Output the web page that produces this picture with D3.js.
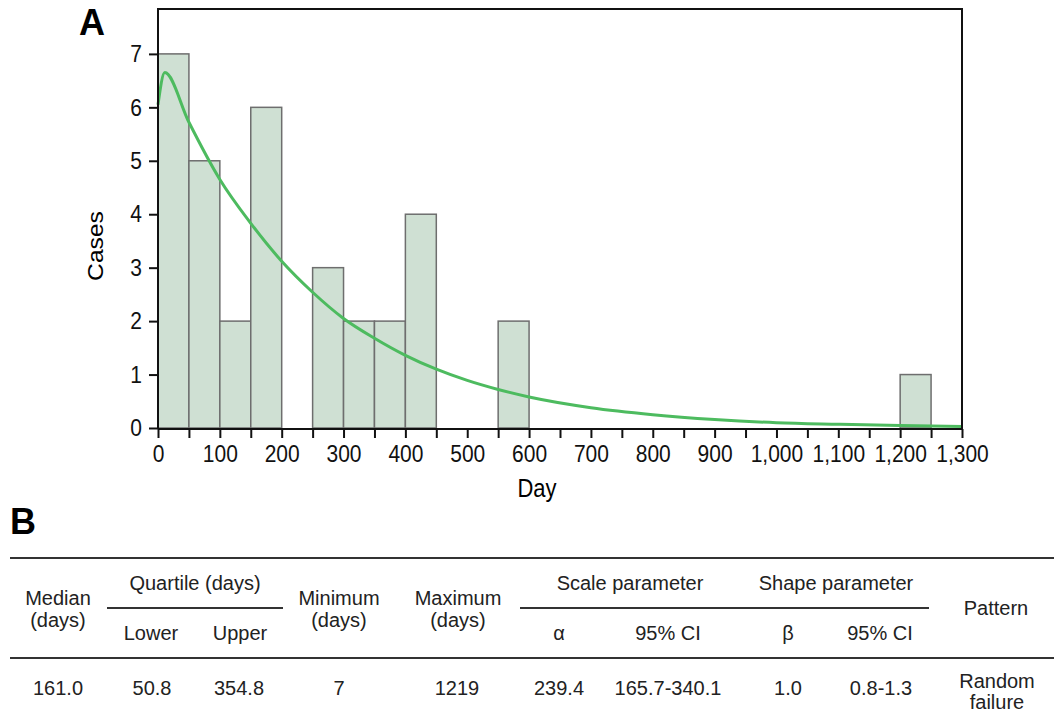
<!DOCTYPE html>
<html>
<head>
<meta charset="utf-8">
<script src="https://cdn.jsdelivr.net/npm/d3@7"></script>
<style>
  body { margin: 0; background: #fff; }
  svg { display: block; font-family: "Liberation Sans", Arial, sans-serif; }
  .axis text { font-size: 21px; fill: #111; }
  .axis path, .axis line { stroke: #111; stroke-width: 2px; }
  .tall { transform-box: fill-box; transform-origin: center; transform: scaleY(1.15); }
  .tbl text { font-size: 20px; fill: #222; text-anchor: middle; }
</style>
</head>
<body>
<svg id="chart" width="1054" height="717"></svg>
<script>
// histogram bins (start day of each 50-day bin) and counts
var binStart = [0, 50, 100, 150, 250, 300, 350, 400, 550, 1200];
var binCount = [7, 5, 2, 6, 3, 2, 2, 4, 2, 1];
var binWidth = 50;

// fitted curve
var curveDay = [0, 11, 50, 100, 150, 200, 250, 300, 350, 400, 450, 500, 550, 600, 700, 800, 900, 1000, 1100, 1200, 1300];
var curveVal = [6.05, 6.65, 5.72, 4.65, 3.83, 3.12, 2.54, 2.05, 1.68, 1.36, 1.10, 0.89, 0.72, 0.58, 0.38, 0.25, 0.16, 0.10, 0.07, 0.045, 0.03];

var xTicks = d3.range(0, 1301, 50);
var yTicks = [0, 1, 2, 3, 4, 5, 6, 7];

// table B
var tblValues = ["161.0", "50.8", "354.8", "7", "1219", "239.4", "165.7-340.1", "1.0", "0.8-1.3"];
var tblSub = ["Lower", "Upper", "α", "95% CI", "β", "95% CI"];

var svg = d3.select("#chart");

var x = d3.scaleLinear().domain([0, 1300]).range([158, 962]);
var y = d3.scaleLinear().domain([0, 7.84]).range([428, 9]);

// bars
svg.append("g").selectAll("rect")
    .data(binStart)
    .enter().append("rect")
    .attr("x", function(d) { return x(d); })
    .attr("y", function(d, i) { return y(binCount[i]); })
    .attr("width", function(d) { return x(d + binWidth) - x(d); })
    .attr("height", function(d, i) { return y(0) - y(binCount[i]); })
    .attr("fill", "#cfe0d3")
    .attr("stroke", "#6e6e6e")
    .attr("stroke-width", 1.5);

// fitted line
var line = d3.line()
    .x(function(d, i) { return x(d); })
    .y(function(d, i) { return y(curveVal[i]); })
    .curve(d3.curveMonotoneX);

svg.append("path")
    .datum(curveDay)
    .attr("d", line)
    .attr("fill", "none")
    .attr("stroke", "#4dbb5f")
    .attr("stroke-width", 3);

// frame (top, left, right)
svg.append("path")
    .attr("d", "M" + x(0) + "," + y(0) + "V" + y.range()[1] + "H" + x(1300) + "V" + (y(0) + 1))
    .attr("fill", "none")
    .attr("stroke", "#111")
    .attr("stroke-width", 2);

// x axis
var fmt = d3.format(",");
svg.append("g")
    .attr("class", "axis x")
    .attr("transform", "translate(0," + (y(0) + 1) + ")")
    .call(d3.axisBottom(x)
        .tickValues(xTicks)
        .tickSize(9)
        .tickPadding(8)
        .tickFormat(function(d) { return d % 100 === 0 ? fmt(d) : ""; }))
    .call(function(g) { g.select(".domain").attr("d", "M" + x(0) + ",0H" + x(1300)); })
    .selectAll(".tick text").attr("class", "tall");

// y axis
svg.append("g")
    .attr("class", "axis y")
    .attr("transform", "translate(" + x(0) + ",0)")
    .call(d3.axisLeft(y)
        .tickValues(yTicks)
        .tickSize(9)
        .tickPadding(7))
    .call(function(g) { g.select(".domain").remove(); })
    .selectAll(".tick text").attr("class", "tall");

// axis titles
svg.append("text")
    .attr("x", 537)
    .attr("y", 496)
    .attr("text-anchor", "middle")
    .attr("class", "tall")
    .style("font-size", "22px")
    .text("Day");

svg.append("text")
    .attr("transform", "translate(103,246) rotate(-90) scale(1.12,1)")
    .attr("text-anchor", "middle")
    .style("font-size", "22px")
    .text("Cases");

// panel letters
svg.append("text")
    .attr("x", 79).attr("y", 35)
    .style("font-size", "36px").style("font-weight", "bold")
    .text("A");

svg.append("text")
    .attr("x", 10).attr("y", 534)
    .style("font-size", "36px").style("font-weight", "bold")
    .text("B");

// table
var tbl = svg.append("g").attr("class", "tbl");

function rule(x1, x2, yy) {
    tbl.append("line")
        .attr("x1", x1).attr("x2", x2)
        .attr("y1", yy).attr("y2", yy)
        .attr("stroke", "#333")
        .attr("stroke-width", 2);
}
rule(10, 1054, 558);
rule(107, 283, 608);
rule(520, 929, 608);
rule(10, 1054, 658);

function cell(txt, cx, by) {
    tbl.append("text").attr("x", cx).attr("y", by).text(txt);
}

// two-line headers
cell("Median", 58, 605); cell("(days)", 58, 627);
cell("Minimum", 339, 605); cell("(days)", 339, 627);
cell("Maximum", 458, 605); cell("(days)", 458, 627);
cell("Pattern", 996, 615);

// group headers
cell("Quartile (days)", 195, 590);
cell("Scale parameter", 630, 590);
cell("Shape parameter", 836, 590);

// sub headers
var subX = [151, 240, 559, 668, 788, 880];
tblSub.forEach(function(t, i) { cell(t, subX[i], 640); });

// values
var valX = [58, 152, 239, 339, 457, 559, 668, 788, 881];
tblValues.forEach(function(t, i) { cell(t, valX[i], 695); });
cell("Random", 997, 688);
cell("failure", 997, 709);
</script>
</body>
</html>
